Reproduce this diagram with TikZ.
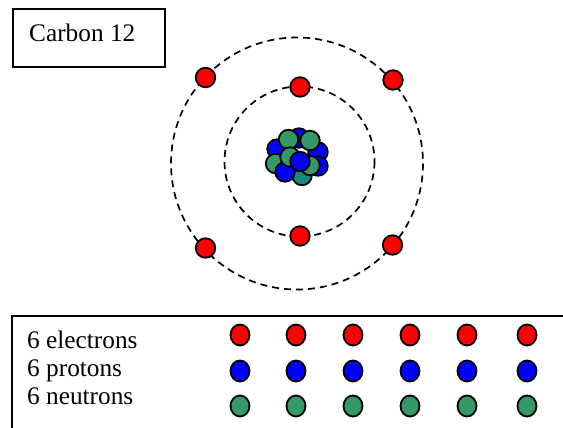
\documentclass[tikz,border=0pt]{standalone}
\usepackage{fontspec}
\setmainfont{Liberation Serif}
\usetikzlibrary{shapes.geometric}
\begin{document}
\begin{tikzpicture}[x=1pt,y=-1pt,
  particle/.style={circle,draw=black,line width=1.8pt,inner sep=0pt,minimum size=19.5pt},
  electron/.style={particle,fill=elecred},
  proton/.style={particle,fill=protblue},
  neutron/.style={particle,fill=neutgreen},
  legdot/.style={ellipse,draw=black,line width=1.8pt,inner sep=0pt,minimum width=19pt,minimum height=21pt},
  orbit/.style={draw=black,line width=1.7pt,dash pattern=on 7pt off 5pt},
  label/.style={font=\fontsize{25.3}{28}\selectfont,anchor=base west,inner sep=0pt}]
\definecolor{elecred}{HTML}{FF0000}
\definecolor{protblue}{HTML}{0000FF}
\definecolor{neutgreen}{HTML}{339966}
\definecolor{neutteal}{HTML}{168A80}
\useasboundingbox (0,0) rectangle (563,428);

% title box
\draw[line width=1.6pt] (13,9) rectangle (165,67);
\node[label] (title) at (29,41.5) {Carbon 12};

% electron shells
\draw[orbit] (297,163.5) circle (126);
\draw[orbit] (299.5,161.5) circle (75);

% inner shell electrons
\node[electron] (i1) at (300,87) {};
\node[electron] (i2) at (300,236) {};
% outer shell electrons
\node[electron] (o1) at (205.5,77.5) {};
\node[electron] (o2) at (393,80) {};
\node[electron] (o3) at (205.5,248) {};
\node[electron] (o4) at (392.5,245) {};

% nucleus, back to front
\begin{scope}[every node/.append style={minimum size=19.5pt}]
\node[proton]  (n1)  at (299,138) {};
\node[proton]  (n2)  at (318,152) {};
\node[proton]  (n3)  at (277,149) {};
\node[neutron] (n4)  at (275.5,163.5) {};
\node[proton]  (n5)  at (318,166) {};
\node[particle,fill=neutteal] (n6) at (302,175.5) {};
\node[proton]  (n7)  at (285,172) {};
\node[neutron] (n8)  at (288.5,139.5) {};
\node[neutron] (n9)  at (310,140.5) {};
\node[neutron] (n10) at (290,157) {};
\node[neutron] (n11) at (310,165.5) {};
\node[proton]  (n12) at (300,161.5) {};
\end{scope}

% legend frame
\draw[line width=2pt] (12,430) -- (12,316) -- (565,316);
\node[label] (le) at (27,348) {6 electrons};
\node[label] (lp) at (27,376) {6 protons};
\node[label] (ln) at (27,404) {6 neutrons};
\foreach \x [count=\i] in {240,296,353,410,467,527}{
  \node[legdot,fill=elecred]   (de\i) at (\x,335) {};
  \node[legdot,fill=protblue]  (dp\i) at (\x,371) {};
  \node[legdot,fill=neutgreen] (dn\i) at (\x,406) {};
}
\end{tikzpicture}
\end{document}
